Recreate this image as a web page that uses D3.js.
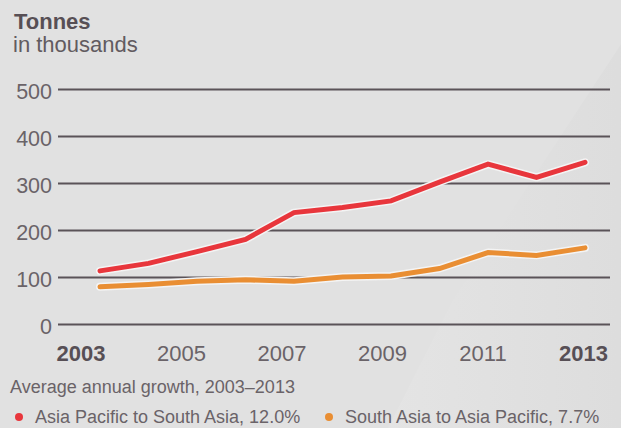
<!DOCTYPE html>
<html><head><meta charset="utf-8">
<script src="https://cdn.jsdelivr.net/npm/d3@7"></script>
<style>body{margin:0;background:#e1e1e1}svg{display:block}</style>
</head><body>
<script>
const years = [2003,2004,2005,2006,2007,2008,2009,2010,2011,2012,2013];
const apToSouthAsia = [113,129,154,180,237,248,262,302,340,312,344];
const southAsiaToAp = [79,84,91,94,91,100,102,118,152,146,162];
const yTicks = [0,100,200,300,400,500];
const xTickLabels = ["2003","2005","2007","2009","2011","2013"];
const boldLabels = ["2003","2013"];
const seriesNames = ["Asia Pacific to South Asia, 12.0%","South Asia to Asia Pacific, 7.7%"];
const seriesColors = ["#e8363c","#e98e33"];

const W=621,H=428;
const svg=d3.select("body").append("svg").attr("width",W).attr("height",H)
  .style("font-family","'Liberation Sans', Arial, sans-serif");
const defs=svg.append("defs");
const gr=defs.append("linearGradient").attr("id","bgr").attr("x1","0").attr("x2","1").attr("y1","0").attr("y2","0");
gr.append("stop").attr("offset","0").attr("stop-color","#e4e4e4");
gr.append("stop").attr("offset","1").attr("stop-color","#dcdcdc");
svg.append("rect").attr("width",W).attr("height",H).attr("fill","#e1e1e1");
svg.append("polygon").attr("points","650,0 453,300 388,428 621,428 621,0").attr("fill","url(#bgr)");

const x=d3.scaleLinear().domain([2003,2013]).range([100,585]);
const xl=d3.scalePoint().domain(xTickLabels).range([80.5,583]);
const y=d3.scaleLinear().domain([0,500]).range([324,89]);

svg.append("text").attr("x",14).attr("y",29).attr("font-size",22).attr("font-weight","bold").attr("fill","#574f55").text("Tonnes");
svg.append("text").attr("x",13).attr("y",52).attr("font-size",22).attr("fill","#625b60").text("in thousands");

const yAxis=d3.axisLeft(y).tickValues(yTicks).tickSize(-(610-58)).tickPadding(7);
const gy=svg.append("g").attr("transform","translate(58,0)").call(yAxis);
gy.select(".domain").remove();
gy.selectAll(".tick line").attr("stroke","#5a5358").attr("stroke-width",2.2);
gy.selectAll(".tick text").attr("font-size",21.5).attr("fill","#6a6368").attr("dy","0.42em").attr("x",-6)
  .style("font-family","'Liberation Sans', Arial, sans-serif");

const xAxis=d3.axisBottom(xl).tickSize(0).tickPadding(0);
const gx=svg.append("g").attr("transform","translate(0,345)").call(xAxis);
gx.select(".domain").remove();
gx.selectAll(".tick text").attr("font-size",22).attr("dy","0.72em")
  .attr("font-weight",d=>boldLabels.includes(d)?"bold":"normal")
  .attr("fill",d=>boldLabels.includes(d)?"#574f55":"#6a6368")
  .style("font-family","'Liberation Sans', Arial, sans-serif");

const line=d3.line().x((d,i)=>x(years[i])).y(d=>y(d));
[southAsiaToAp, apToSouthAsia].forEach((s,k)=>{
  const col = k===0?seriesColors[1]:seriesColors[0];
  svg.append("path").attr("d",line(s)).attr("fill","none").attr("stroke","#f4f4f4").attr("stroke-width",8)
    .attr("stroke-linejoin","round").attr("stroke-linecap","round");
  svg.append("path").attr("d",line(s)).attr("fill","none").attr("stroke",col).attr("stroke-width",5)
    .attr("stroke-linejoin","miter").attr("stroke-linecap","round");
});

svg.append("text").attr("x",10).attr("y",393).attr("font-size",18).attr("fill","#6a6368").text("Average annual growth, 2003\u20132013");
const legX=[19,329];
seriesNames.forEach((n,i)=>{
  svg.append("circle").attr("cx",legX[i]).attr("cy",417).attr("r",4).attr("fill",seriesColors[i]);
  svg.append("text").attr("x",legX[i]+16).attr("y",423).attr("font-size",18).attr("fill","#6a6368").text(n);
});
</script>
</body></html>
